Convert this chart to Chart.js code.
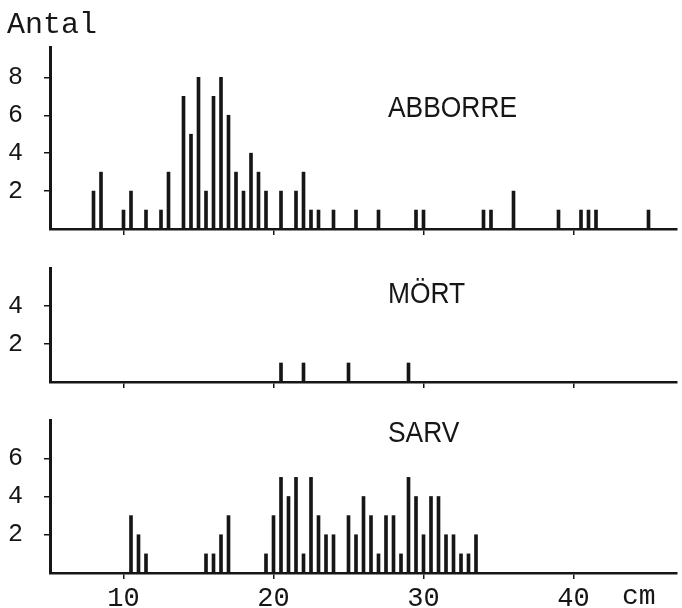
<!DOCTYPE html>
<html lang="sv">
<head>
<meta charset="utf-8">
<script src="https://cdn.jsdelivr.net/npm/chart.js@4.4.1/dist/chart.umd.min.js"></script>
<style>
  html, body { margin: 0; padding: 0; background: #fff; }
  #wrap { position: relative; width: 682px; height: 608px; }
  canvas { position: absolute; left: 0; }
</style>
</head>
<body>
<div id="wrap">
  <canvas id="abborre" width="682" height="240" style="top:0"></canvas>
  <canvas id="mort" width="682" height="143" style="top:250px"></canvas>
  <canvas id="sarv" width="682" height="208" style="top:400px"></canvas>
</div>
<script>
// längdfördelning, antal fiskar per halvcentimeter
const xTicks = [10, 20, 30, 40];

const abborreCm = [8, 8.5, 10, 10.5, 11.5, 12.5, 13, 14, 14.5, 15, 15.5, 16, 16.5, 17,
  17.5, 18, 18.5, 19, 19.5, 20.5, 21.5, 22, 22.5, 23, 24, 25.5, 27, 29.5, 30,
  34, 34.5, 36, 39, 40.5, 41, 41.5, 45];
const abborreAntal = [2, 3, 1, 2, 1, 1, 3, 7, 5, 8, 2, 7, 8, 6,
  3, 2, 4, 3, 2, 2, 2, 3, 1, 1, 1, 1, 1, 1, 1,
  1, 1, 2, 1, 1, 1, 1, 1];
const abborreYTicks = [2, 4, 6, 8];

const mortCm = [20.5, 22, 25, 29];
const mortAntal = [1, 1, 1, 1];
const mortYTicks = [2, 4];

const sarvCm = [10.5, 11, 11.5, 15.5, 16, 16.5, 17, 19.5, 20, 20.5, 21, 21.5, 22, 22.5,
  23, 23.5, 24, 25, 25.5, 26, 26.5, 27, 27.5, 28, 28.5, 29, 29.5, 30, 30.5, 31,
  31.5, 32, 32.5, 33, 33.5];
const sarvAntal = [3, 2, 1, 1, 1, 2, 3, 1, 3, 5, 4, 5, 1, 5,
  3, 2, 2, 3, 2, 4, 3, 1, 3, 3, 1, 5, 4, 2, 4, 4,
  2, 2, 1, 1, 2];
const sarvYTicks = [2, 4, 6];

const INK = '#161616';
const X_MIN = 5.1;
const X_MAX = 46.9;
const MONO = 'Liberation Mono';

// fri text i diagrammet (rubriker, enheter)
const textPlugin = {
  id: 'panelText',
  afterDraw(chart, args, opts) {
    const ctx = chart.ctx;
    (opts.items || []).forEach((it) => {
      ctx.save();
      ctx.font = it.font;
      ctx.fillStyle = INK;
      ctx.textBaseline = 'alphabetic';
      ctx.translate(it.x, it.y);
      ctx.scale(it.sx || 1, 1);
      ctx.fillText(it.text, 0, 0);
      ctx.restore();
    });
  },
};

function panelChart(id, cfg) {
  return new Chart(document.getElementById(id), {
    type: 'bar',
    data: {
      datasets: [{
        data: cfg.cm.map((x, i) => ({ x, y: cfg.antal[i] })),
        backgroundColor: INK,
        borderWidth: 0,
        barThickness: 3,
      }],
    },
    options: {
      responsive: false,
      animation: false,
      events: [],
      layout: { padding: { top: cfg.padTop, right: 5, left: 0, bottom: 0 } },
      plugins: {
        legend: { display: false },
        tooltip: { enabled: false },
        panelText: { items: cfg.texts },
      },
      scales: {
        x: {
          type: 'linear',
          min: X_MIN,
          max: X_MAX,
          offset: false,
          afterBuildTicks: (s) => { s.ticks = xTicks.map((v) => ({ value: v })); },
          afterFit: (s) => { s.height = cfg.showX ? 35 : 11; s.paddingLeft = 0; s.paddingRight = 0; },
          grid: { offset: false, drawOnChartArea: false, drawTicks: true, tickLength: 6, color: INK, lineWidth: 1.5 },
          border: { color: INK, width: 2.5 },
          ticks: {
            display: cfg.showX,
            color: INK,
            padding: 4,
            maxRotation: 0,
            autoSkip: false,
            font: { family: MONO, size: 27 },
          },
        },
        y: {
          min: 0,
          max: cfg.yMax,
          afterBuildTicks: (s) => { s.ticks = cfg.yTicks.map((v) => ({ value: v })); },
          afterFit: (s) => { s.width = 50; s.paddingTop = 0; s.paddingBottom = 0; },
          grid: { drawOnChartArea: false, drawTicks: true, tickLength: 6, color: INK, lineWidth: 1.5 },
          border: { color: INK, width: 3 },
          ticks: { color: INK, padding: 21, font: { family: MONO, size: 25 } },
        },
      },
    },
    plugins: [textPlugin],
  });
}

const sans = '30px "Liberation Sans"';

panelChart('abborre', {
  cm: abborreCm, antal: abborreAntal, yTicks: abborreYTicks, yMax: 9.6,
  padTop: 47, showX: false,
  texts: [
    { text: 'Antal', x: 7, y: 33, font: `30px "${MONO}"` },
    { text: 'ABBORRE', x: 388, y: 117, font: sans, sx: 0.88 },
  ],
});

panelChart('mort', {
  cm: mortCm, antal: mortAntal, yTicks: mortYTicks, yMax: 6,
  padTop: 18, showX: false,
  texts: [{ text: 'MÖRT', x: 388, y: 53, font: sans, sx: 0.88 }],
});

panelChart('sarv', {
  cm: sarvCm, antal: sarvAntal, yTicks: sarvYTicks, yMax: 8,
  padTop: 20, showX: true,
  texts: [
    { text: 'SARV', x: 388, y: 42, font: sans, sx: 0.88 },
    { text: 'cm', x: 622, y: 204, font: `28px "${MONO}"` },
  ],
});
</script>
</body>
</html>
